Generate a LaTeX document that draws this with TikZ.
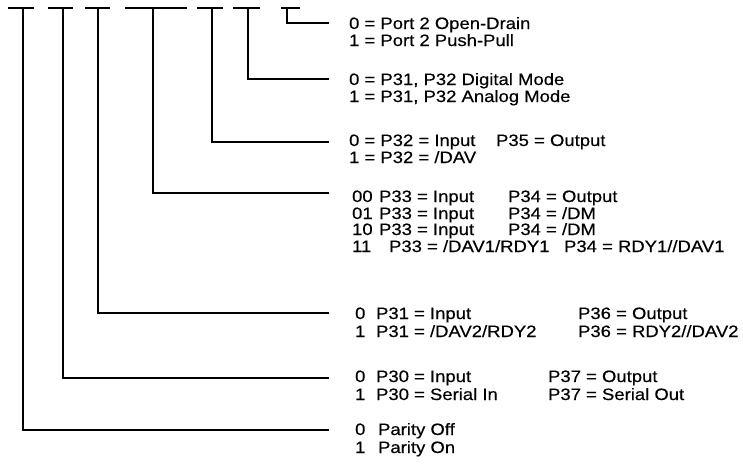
\documentclass[tikz,border=0pt]{standalone}
\usepackage{fontspec}
\setmainfont{Liberation Sans}[FakeStretch=1.12,FakeBold=0.4]
\usetikzlibrary{positioning}

\begin{document}
\begin{tikzpicture}[x=1pt,y=-1pt,line width=2.2pt,
 every node/.style={font=\fontsize{16.5}{17}\selectfont,inner sep=0pt,anchor=base west}]
\useasboundingbox (0,0) rectangle (743,464);
% bit fields: top bar, stem, lead to the text
\foreach \n/\l/\r/\s/\y in {7/8/34/23/430,6/48/73/63/378,5/85/110/98/313,
 3/125/187/153/193,2/197/223/212/142,1/233/260/248/79,0/281/300/287/23}{
 \coordinate (bl\n) at (\l,8);\coordinate (br\n) at (\r,8);
 \coordinate (b\n) at (\s,8);\coordinate (e\n) at (329,\y);
 \draw (bl\n)--(br\n);
 \draw (b\n)|-(e\n);
}
% bit 0
\node (d0a) at (348,29) {0 = Port 2 Open-Drain};
\node (d0b) at (348,46) {1 = Port 2 Push-Pull};
% bit 1
\node (d1a) at (348,85) {0 = P31, P32 Digital Mode};
\node (d1b) at (348,102) {1 = P31, P32 Analog Mode};
% bit 2
\node (d2a) at (348,146) {0 = P32 = Input};\node (d2c) at (495,146) {P35 = Output};
\node (d2b) at (348,163) {1 = P32 = /DAV};
% bits 3,4
\node (k00) at (351,202) {00};\node (d3a) at (378,202) {P33 = Input};\node (f3a) at (507,202) {P34 = Output};
\node (k01) at (351,219) {01};\node (d3b) at (378,219) {P33 = Input};\node (f3b) at (507,219) {P34 = /DM};
\node (k10) at (351,235) {10};\node (d3c) at (378,235) {P33 = Input};\node (f3c) at (507,235) {P34 = /DM};
\node (k11) at (351,252) {11};\node (d3d) at (388,252) {P33 = /DAV1/RDY1};\node (f3d) at (563,252) {P34 = RDY1//DAV1};
% bit 5
\node (k5a) at (354,319) {0};\node (d5a) at (375,319) {P31 = Input};\node (f5a) at (577,319) {P36 = Output};
\node (k5b) at (354,337) {1};\node (d5b) at (375,337) {P31 = /DAV2/RDY2};\node (f5b) at (577,337) {P36 = RDY2//DAV2};
% bit 6
\node (k6a) at (354,382) {0};\node (d6a) at (375,382) {P30 = Input};\node (f6a) at (547,382) {P37 = Output};
\node (k6b) at (354,400) {1};\node (d6b) at (375,400) {P30 = Serial In};\node (f6b) at (547,400) {P37 = Serial Out};
% bit 7
\node (k7a) at (354,435) {0};\node (d7a) at (377,435) {Parity Off};
\node (k7b) at (354,453) {1};\node (d7b) at (377,453) {Parity On};
\end{tikzpicture}
\end{document}
